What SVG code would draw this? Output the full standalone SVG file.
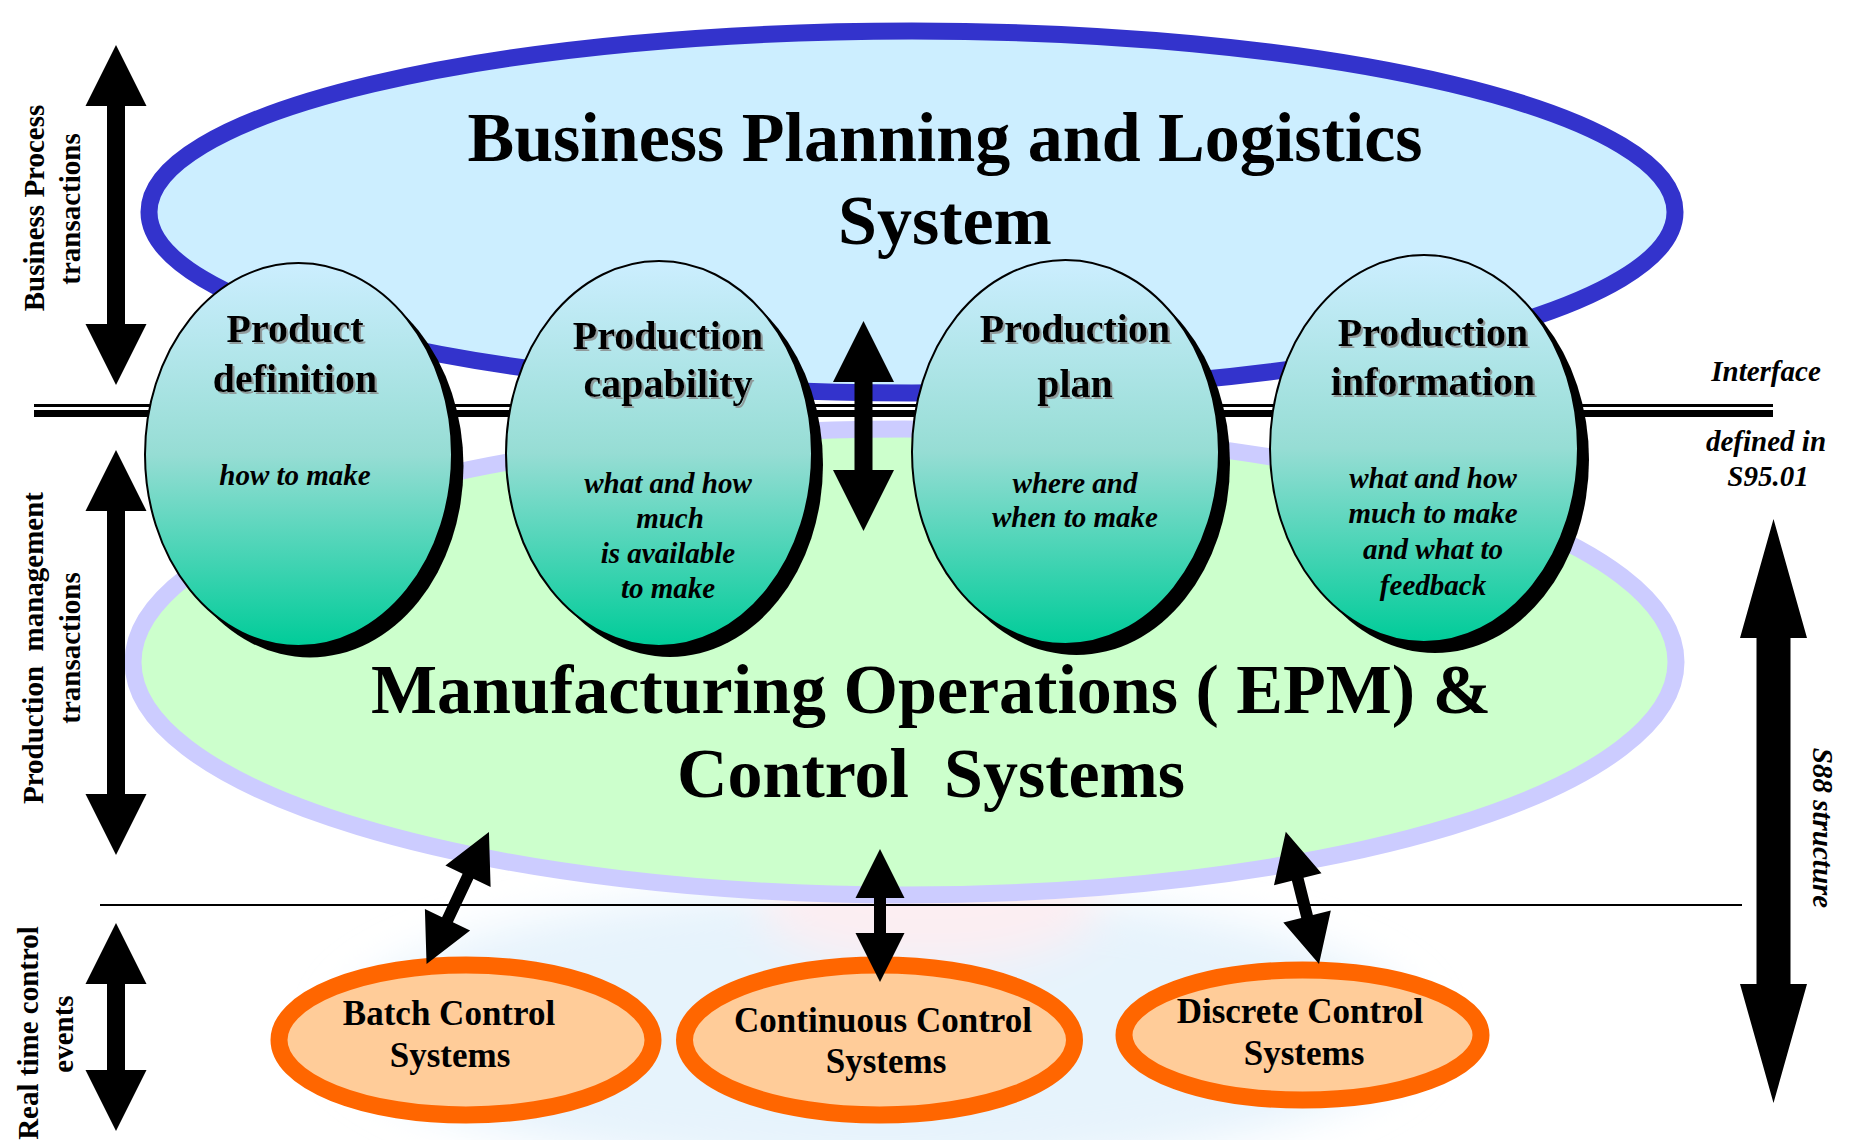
<svg xmlns="http://www.w3.org/2000/svg" width="1849" height="1140" viewBox="0 0 1849 1140">
<defs>
<style>
.t{font-family:"Liberation Serif","Times New Roman",serif;font-weight:bold;fill:#000}
.i{font-style:italic}
.big{font-size:70px}
.tt{font-size:40px}
.sm{font-size:29px}
.bc{font-size:35px}
.sh{fill:#000}
.teal{fill:url(#tealGrad);stroke:#000;stroke-width:2}
.orange{fill:#FFCC99;stroke:#FF6600;stroke-width:17}
.arrow{fill:#000}
</style>
<linearGradient id="tealGrad" x1="0" y1="0" x2="0" y2="1">
<stop offset="0" stop-color="#CCEEFF"/>
<stop offset="0.5" stop-color="#96DDD4"/>
<stop offset="1" stop-color="#00CC99"/>
</linearGradient>
<filter id="blur" x="-30%" y="-30%" width="160%" height="160%">
<feGaussianBlur stdDeviation="22"/>
</filter>
<filter id="tshadow" x="-10%" y="-20%" width="120%" height="150%">
<feDropShadow dx="2" dy="2" stdDeviation="0.6" flood-color="#888" flood-opacity="0.8"/>
</filter>
</defs>
<rect width="1849" height="1140" fill="#fff"/>
<g id="background" filter="url(#blur)">
<ellipse cx="880" cy="1030" rx="540" ry="140" fill="#E6F3FC"/>
<ellipse cx="930" cy="905" rx="170" ry="60" fill="#FCEEF2"/>
</g>
<g id="business-planning">
<ellipse cx="912" cy="212" rx="763" ry="181" fill="#CCEEFF" stroke="#3333CC" stroke-width="17"/>
<text class="t big" x="945" y="161" text-anchor="middle">Business Planning and Logistics</text>
<text class="t big" x="945" y="244" text-anchor="middle">System</text>
</g>
<g id="manufacturing-operations">
<ellipse cx="904.5" cy="662" rx="771.5" ry="233" fill="#CCFFCC" stroke="#CCCCFF" stroke-width="17"/>
<text class="t big" x="931" y="713" text-anchor="middle" xml:space="preserve">Manufacturing Operations ( EPM) &amp;</text>
<text class="t big" x="931" y="797" text-anchor="middle" xml:space="preserve">Control  Systems</text>
</g>
<g id="interface-lines">
<rect x="34" y="404" width="1739" height="3" fill="#000"/>
<rect x="34" y="410" width="1739" height="7" fill="#000"/>
<rect x="100" y="904" width="1642" height="2" fill="#000"/>
</g>
<g id="product-definition">
<ellipse class="sh" cx="310" cy="466" rx="153.5" ry="191.5"/>
<ellipse class="teal" cx="298.5" cy="454.5" rx="153.5" ry="191.5"/>
<g filter="url(#tshadow)">
<text class="t tt" x="295" y="342" text-anchor="middle">Product</text>
<text class="t tt" x="295" y="392" text-anchor="middle">definition</text>
</g>
<text class="t i sm" x="295" y="485" text-anchor="middle">how to make</text>
</g>
<g id="production-capability">
<ellipse class="sh" cx="670" cy="464.5" rx="153" ry="192.5"/>
<ellipse class="teal" cx="659" cy="453.5" rx="153" ry="192.5"/>
<g filter="url(#tshadow)">
<text class="t tt" x="668" y="349" text-anchor="middle">Production</text>
<text class="t tt" x="668" y="397" text-anchor="middle">capability</text>
</g>
<text class="t i sm" x="668" y="493" text-anchor="middle">what and how</text>
<text class="t i sm" x="670" y="528" text-anchor="middle">much</text>
<text class="t i sm" x="668" y="563" text-anchor="middle">is available</text>
<text class="t i sm" x="668" y="598" text-anchor="middle">to make</text>
</g>
<g id="production-plan">
<ellipse class="sh" cx="1076.5" cy="463" rx="153.5" ry="192"/>
<ellipse class="teal" cx="1065.5" cy="452" rx="153.5" ry="192"/>
<g filter="url(#tshadow)">
<text class="t tt" x="1075" y="342" text-anchor="middle">Production</text>
<text class="t tt" x="1075" y="397" text-anchor="middle">plan</text>
</g>
<text class="t i sm" x="1075" y="493" text-anchor="middle">where and</text>
<text class="t i sm" x="1075" y="527" text-anchor="middle">when to make</text>
</g>
<g id="production-information">
<ellipse class="sh" cx="1435" cy="459.5" rx="154" ry="193.5"/>
<ellipse class="teal" cx="1424" cy="448.5" rx="154" ry="193.5"/>
<g filter="url(#tshadow)">
<text class="t tt" x="1433" y="346" text-anchor="middle">Production</text>
<text class="t tt" x="1433" y="395" text-anchor="middle">information</text>
</g>
<text class="t i sm" x="1433" y="488" text-anchor="middle">what and how</text>
<text class="t i sm" x="1433" y="523" text-anchor="middle">much to make</text>
<text class="t i sm" x="1433" y="559" text-anchor="middle">and what to</text>
<text class="t i sm" x="1433" y="595" text-anchor="middle">feedback</text>
</g>
<g id="batch-control">
<ellipse class="orange" cx="466" cy="1040" rx="187" ry="75"/>
<text class="t bc" x="449" y="1025" text-anchor="middle">Batch Control</text>
<text class="t bc" x="450" y="1067" text-anchor="middle">Systems</text>
</g>
<g id="continuous-control">
<ellipse class="orange" cx="879.5" cy="1040" rx="195" ry="75"/>
<text class="t bc" x="883" y="1032" text-anchor="middle">Continuous Control</text>
<text class="t bc" x="886" y="1073" text-anchor="middle">Systems</text>
</g>
<g id="discrete-control">
<ellipse class="orange" cx="1302.5" cy="1035" rx="178.5" ry="65"/>
<text class="t bc" x="1300" y="1023" text-anchor="middle">Discrete Control</text>
<text class="t bc" x="1304" y="1065" text-anchor="middle">Systems</text>
</g>
<g id="labels">
<text class="t sm" transform="translate(44,208) rotate(-90)" text-anchor="middle">Business Process</text>
<text class="t sm" transform="translate(80,209) rotate(-90)" text-anchor="middle">transactions</text>
<text class="t sm" transform="translate(43,648) rotate(-90)" text-anchor="middle" xml:space="preserve">Production  management</text>
<text class="t sm" transform="translate(80,648) rotate(-90)" text-anchor="middle">transactions</text>
<text class="t sm" transform="translate(38,1033) rotate(-90)" text-anchor="middle">Real time control</text>
<text class="t sm" transform="translate(73,1034) rotate(-90)" text-anchor="middle">events</text>
<text class="t i sm" x="1766" y="381" text-anchor="middle">Interface</text>
<text class="t i sm" x="1766" y="451" text-anchor="middle">defined in</text>
<text class="t i sm" x="1768" y="486" text-anchor="middle">S95.01</text>
<text class="t i sm" transform="translate(1813,828) rotate(90)" text-anchor="middle">S88 structure</text>
</g>
<g id="connectors">
<polygon class="arrow" points="116,45 146.5,106 125,106 125,324 146.5,324 116,385 85.5,324 107,324 107,106 85.5,106"/>
<polygon class="arrow" points="116,450 146.5,511 125,511 125,794 146.5,794 116,855 85.5,794 107,794 107,511 85.5,511"/>
<polygon class="arrow" points="116,923 146.5,984 125,984 125,1070 146.5,1070 116,1131 85.5,1070 107,1070 107,984 85.5,984"/>
<polygon class="arrow" points="863.5,321 894,382 872.5,382 872.5,470 894,470 863.5,531 833,470 854.5,470 854.5,382 833,382"/>
<polygon class="arrow" points="1773.5,519 1807,638 1790.5,638 1790.5,984 1807,984 1773.5,1103 1740,984 1756.5,984 1756.5,638 1740,638"/>
<polygon class="arrow" transform="translate(457.75,898) rotate(25.3)" points="0,-73 25,-24 6,-24 6,24 25,24 0,73 -25,24 -6,24 -6,-24 -25,-24"/>
<polygon class="arrow" transform="translate(880,915.5)" points="0,-66.5 24.5,-17.5 6,-17.5 6,17.5 24.5,17.5 0,66.5 -24.5,17.5 -6,17.5 -6,-17.5 -24.5,-17.5"/>
<polygon class="arrow" transform="translate(1302.4,897.9) rotate(-14.1)" points="0,-68.2 24.5,-19.2 6,-19.2 6,19.2 24.5,19.2 0,68.2 -24.5,19.2 -6,19.2 -6,-19.2 -24.5,-19.2"/>
</g>
</svg>
